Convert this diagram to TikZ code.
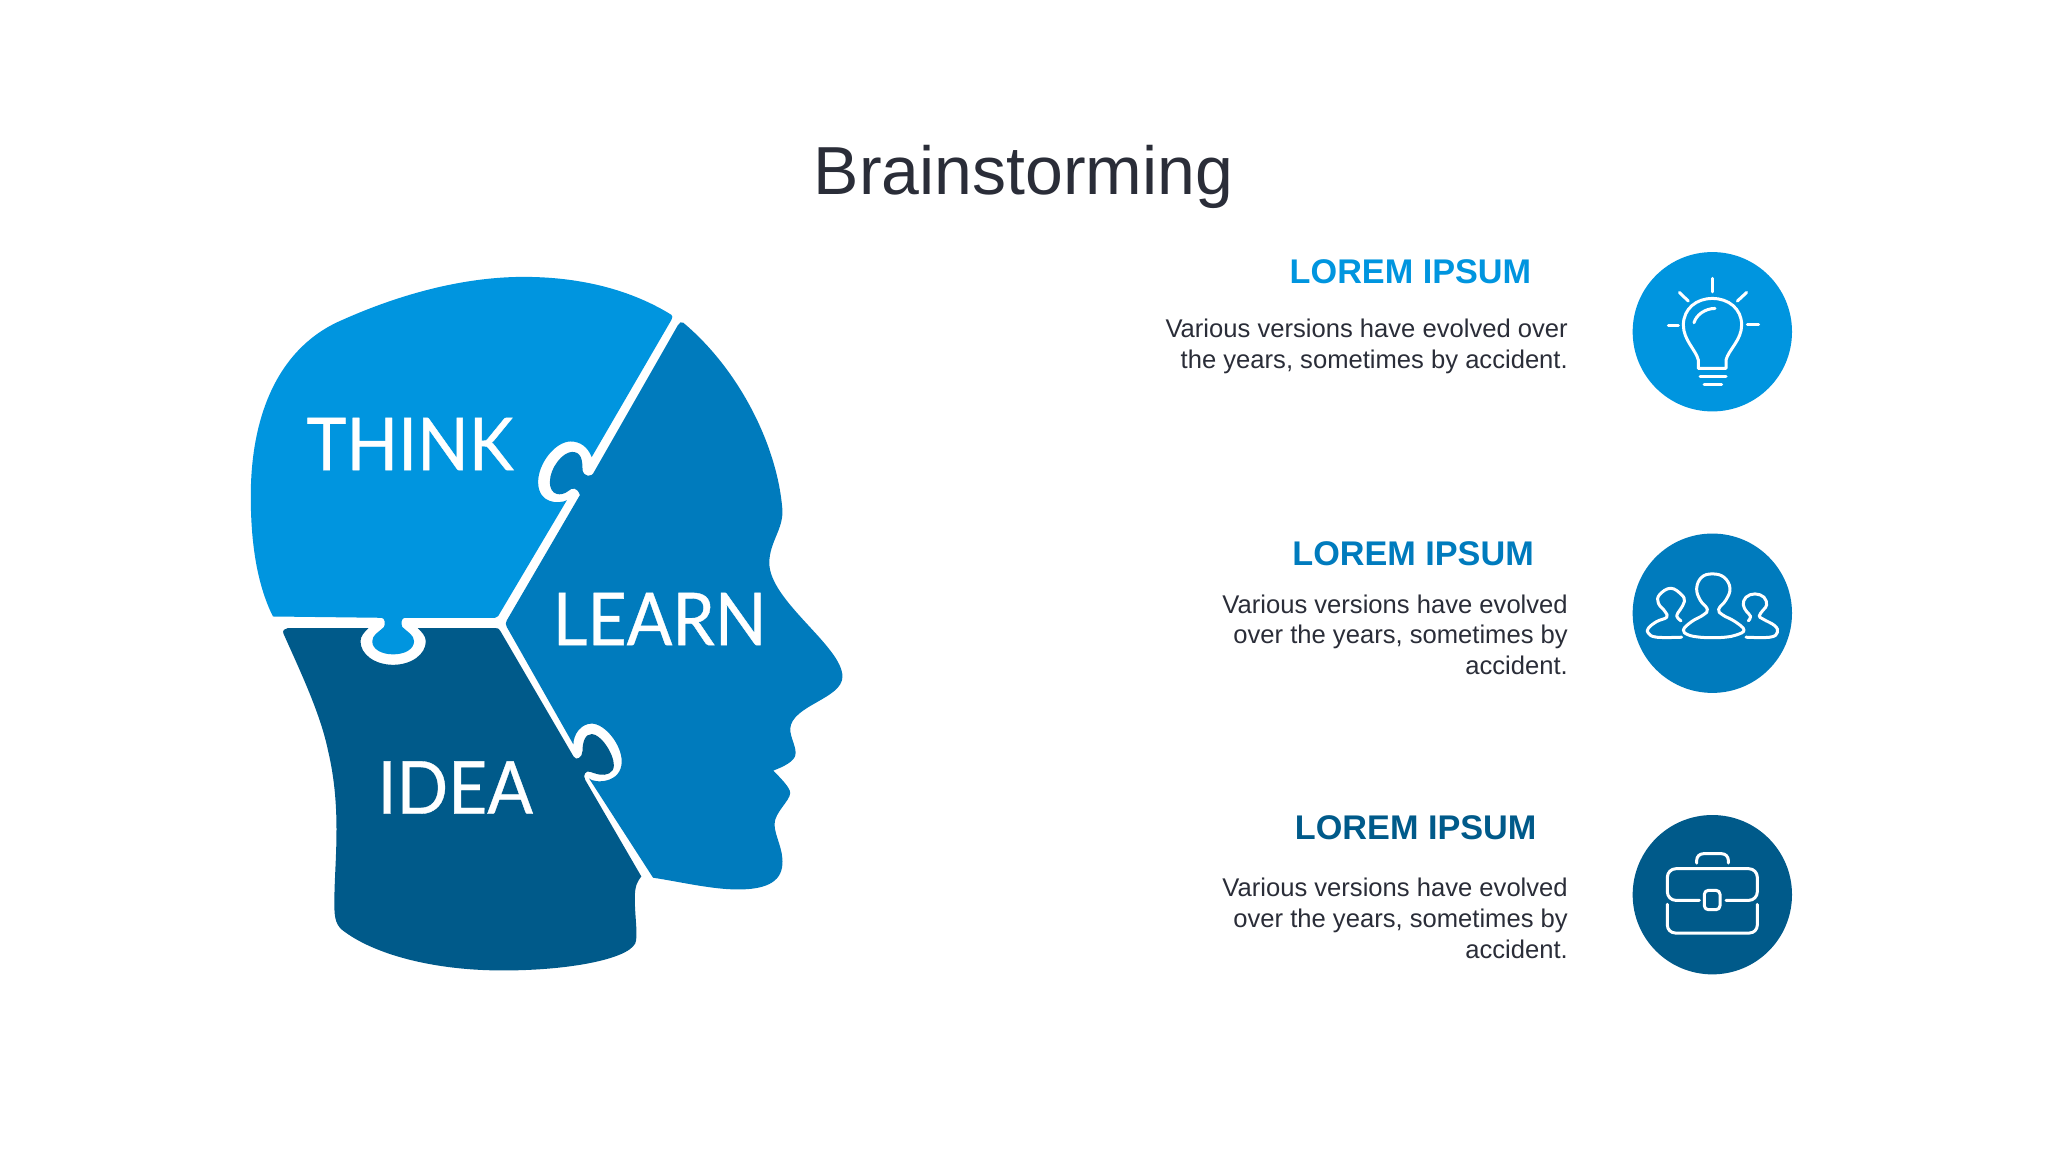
\documentclass[tikz,border=0pt]{standalone}
\usepackage{fontspec}
\setmainfont{Liberation Sans}
\newfontfamily\latofont[FakeStretch=0.925,FakeBold=0.5]{Lato}
\definecolor{cA}{HTML}{0095DF}
\definecolor{cB}{HTML}{007BBD}
\definecolor{cC}{HTML}{005A8A}
\definecolor{ink}{HTML}{2A2D38}
\tikzset{
  titletext/.style={inner sep=0pt,text=ink,font=\fontsize{52.05}{60}\selectfont,anchor=base},
  headtext/.style={inner sep=0pt,font=\bfseries\fontsize{26.2}{32}\selectfont,anchor=base east},
  bodytext/.style={inner sep=0pt,text=ink,font=\fontsize{19.6}{23.6}\selectfont,align=right,anchor=north east},
  puzzletext/.style={inner sep=0pt,text=white,font=\latofont\fontsize{56}{60}\selectfont,anchor=base west},
  disc/.style={circle,minimum size=122pt,inner sep=0pt},
  icon/.style={draw=white,line width=2.3pt,line cap=round,line join=round},
}
\begin{document}
\begin{tikzpicture}[x=1pt,y=-1pt]
\useasboundingbox (0,0) rectangle (1568,882);
\fill[white] (0,0) rectangle (1568,882);
% THINK piece
\fill[cA]
  (514,241) .. controls (480,220) and (440,212) .. (401,212)
  .. controls (350,212) and (300,228) .. (262,245)
  .. controls (215,265) and (192,315) .. (192,380)
  .. controls (192,420) and (198,450) .. (209,472)
  -- (292,473) .. controls (295,473) and (295,478) .. (294,480)
  .. controls (290,484) and (285,486) .. (285,491)
  .. controls (285,497) and (292,501) .. (301,501)
  .. controls (310,501) and (317,497) .. (317,491)
  .. controls (317,486) and (312,484) .. (308,480)
  .. controls (307,478) and (307,473) .. (310,473)
  -- (379,473) .. controls (381,473) and (382,471) .. (383,469)
  -- (434,383)
  .. controls (428,386) and (412,386) .. (412,369)
  .. controls (412,355) and (425,338) .. (437,338)
  .. controls (444,338) and (450,342) .. (453,350)
  -- (514,245) .. controls (515,243) and (515,242) .. (514,241) -- cycle;
% LEARN piece
\fill[cB]
  (523,247) .. controls (565,282) and (595,340) .. (599,390)
  .. controls (600,405) and (589,415) .. (589,431)
  .. controls (589,460) and (645,495) .. (645,518)
  .. controls (645,535) and (606,540) .. (605,558)
  .. controls (605,565) and (610,572) .. (609,578)
  .. controls (608,583) and (600,587) .. (592,590)
  .. controls (597,595) and (605,603) .. (605,607)
  .. controls (605,613) and (593,622) .. (593,631)
  .. controls (593,640) and (600,650) .. (599,662)
  .. controls (598,676) and (585,681) .. (565,681)
  .. controls (545,681) and (520,675) .. (500,672)
  -- (451,596)
  .. controls (455,600) and (476,600) .. (476,583)
  .. controls (476,570) and (463,554) .. (453,554)
  .. controls (445,554) and (439,562) .. (439,570)
  -- (388,480) .. controls (387,478) and (387,477) .. (388,475)
  -- (444,379)
  .. controls (442,373) and (438,373) .. (435,376)
  .. controls (430,380) and (421,380) .. (421,369)
  .. controls (421,358) and (431,346) .. (438,346)
  .. controls (445,346) and (446,352) .. (446,360)
  .. controls (447,365) and (453,366) .. (455,361)
  -- (519,249) .. controls (520,247) and (522,246) .. (523,247) -- cycle;
% IDEA piece
\fill[cC]
  (220,481) -- (282,481)
  .. controls (279,484) and (276,487) .. (276,491)
  .. controls (276,501) and (287,509) .. (301,509)
  .. controls (315,509) and (326,501) .. (326,491)
  .. controls (326,487) and (323,484) .. (320,481)
  -- (380,481) .. controls (381,481) and (382,481) .. (383,483)
  -- (439,579)
  .. controls (441,583) and (446,580) .. (446,575)
  .. controls (446,568) and (448,562) .. (453,562)
  .. controls (460,562) and (470,577) .. (470,586)
  .. controls (470,592) and (464,594) .. (459,593)
  .. controls (453,592) and (450,589) .. (448,592)
  .. controls (447,593) and (447,595) .. (448,597)
  -- (491,671)
  .. controls (488,675) and (486,678) .. (486,688)
  .. controls (486,700) and (488,712) .. (487,720)
  .. controls (486,733) and (440,743) .. (385,743)
  .. controls (330,743) and (285,730) .. (262,712)
  .. controls (256,707) and (256,700) .. (256,690)
  .. controls (256,660) and (262,620) .. (251,574)
  .. controls (245,545) and (228,510) .. (217,485)
  .. controls (216,483) and (218,481) .. (220,481) -- cycle;
% puzzle labels
\node[puzzletext] (think) at (234.5,360) {THINK};
\node[puzzletext] (learn) at (423,494) {LEARN};
\node[puzzletext] (idea) at (289,623) {IDEA};
% title
\node[titletext] (title) at (783.5,149) {Brainstorming};
% text blocks
\node[headtext,text=cA] (h1) at (1172.5,217) {LOREM IPSUM};
\node[bodytext] (b1) at (1200.5,244) {Various versions have evolved over\\the years, sometimes by accident.};
\node[headtext,text=cB] (h2) at (1174.5,433) {LOREM IPSUM};
\node[bodytext] (b2) at (1200.5,455) {Various versions have evolved\\over the years, sometimes by\\accident.};
\node[headtext,text=cC] (h3) at (1176.5,643) {LOREM IPSUM};
\node[bodytext] (b3) at (1200.5,672) {Various versions have evolved\\over the years, sometimes by\\accident.};
% discs
\node[disc,fill=cA] (d1) at (1311,254) {};
\node[disc,fill=cB] (d2) at (1311,469.5) {};
\node[disc,fill=cC] (d3) at (1311,685) {};
% bulb icon
\begin{scope}[shift={(d1.center)},x=0.255pt,y=-0.255pt,icon]
\begin{scope}[shift={(-277,-275)}]
\draw (277,115) -- (277,155);
\draw (178,157) -- (205,183);
\draw (380,157) -- (352,183);
\draw (145,256) -- (175,256);
\draw (382,252) -- (416,252);
\draw (235,385) -- (235,360) .. controls (228,330) and (190,300) .. (190,255)
  .. controls (190,205) and (230,175) .. (277,175)
  .. controls (325,175) and (365,205) .. (365,255)
  .. controls (365,300) and (325,330) .. (318,360) -- (318,385) -- cycle;
\draw (222,248) .. controls (228,225) and (255,205) .. (285,205);
\draw (240,410) -- (318,410);
\draw (252,433) -- (305,433);
\end{scope}
\end{scope}
% people icon
\begin{scope}[shift={(d2.center)},x=0.255pt,y=-0.255pt,icon]
\begin{scope}[shift={(-277,-280)}]
\draw plot[smooth cycle,tension=0.7] coordinates {(277,162) (245,172) (230,205) (240,240) (262,268) (250,285) (215,305) (190,330) (205,345) (240,352) (277,353) (315,352) (350,345) (372,330) (345,305) (308,285) (296,268) (318,240) (330,205) (312,172)};
\draw plot[smooth,tension=0.7] coordinates {(185,352) (110,352) (85,340) (85,325) (110,305) (140,292) (135,275) (115,250) (118,225) (152,205) (185,225) (193,245) (180,270) (170,288) (183,303)};
\draw plot[smooth,tension=0.7] coordinates {(378,352) (450,352) (472,338) (465,318) (430,298) (418,288) (430,270) (440,255) (432,232) (405,222) (378,232) (370,255) (380,275) (392,290) (385,303)};
\end{scope}
\end{scope}
% briefcase icon
\begin{scope}[shift={(d3.center)},x=0.255pt,y=-0.255pt,icon]
\begin{scope}[shift={(-277,-283)}]
\draw[rounded corners=5pt] (230,188) -- (230,160) -- (325,160) -- (325,188);
\draw[rounded corners=6.5pt] (238,300) -- (142,300) -- (142,205) -- (412,205) -- (412,300) -- (318,300);
\draw[rounded corners=3pt] (253,270) rectangle (300,328);
\draw[rounded corners=6pt] (142,312) -- (142,398) -- (412,398) -- (412,312);
\end{scope}
\end{scope}
\end{tikzpicture}
\end{document}
